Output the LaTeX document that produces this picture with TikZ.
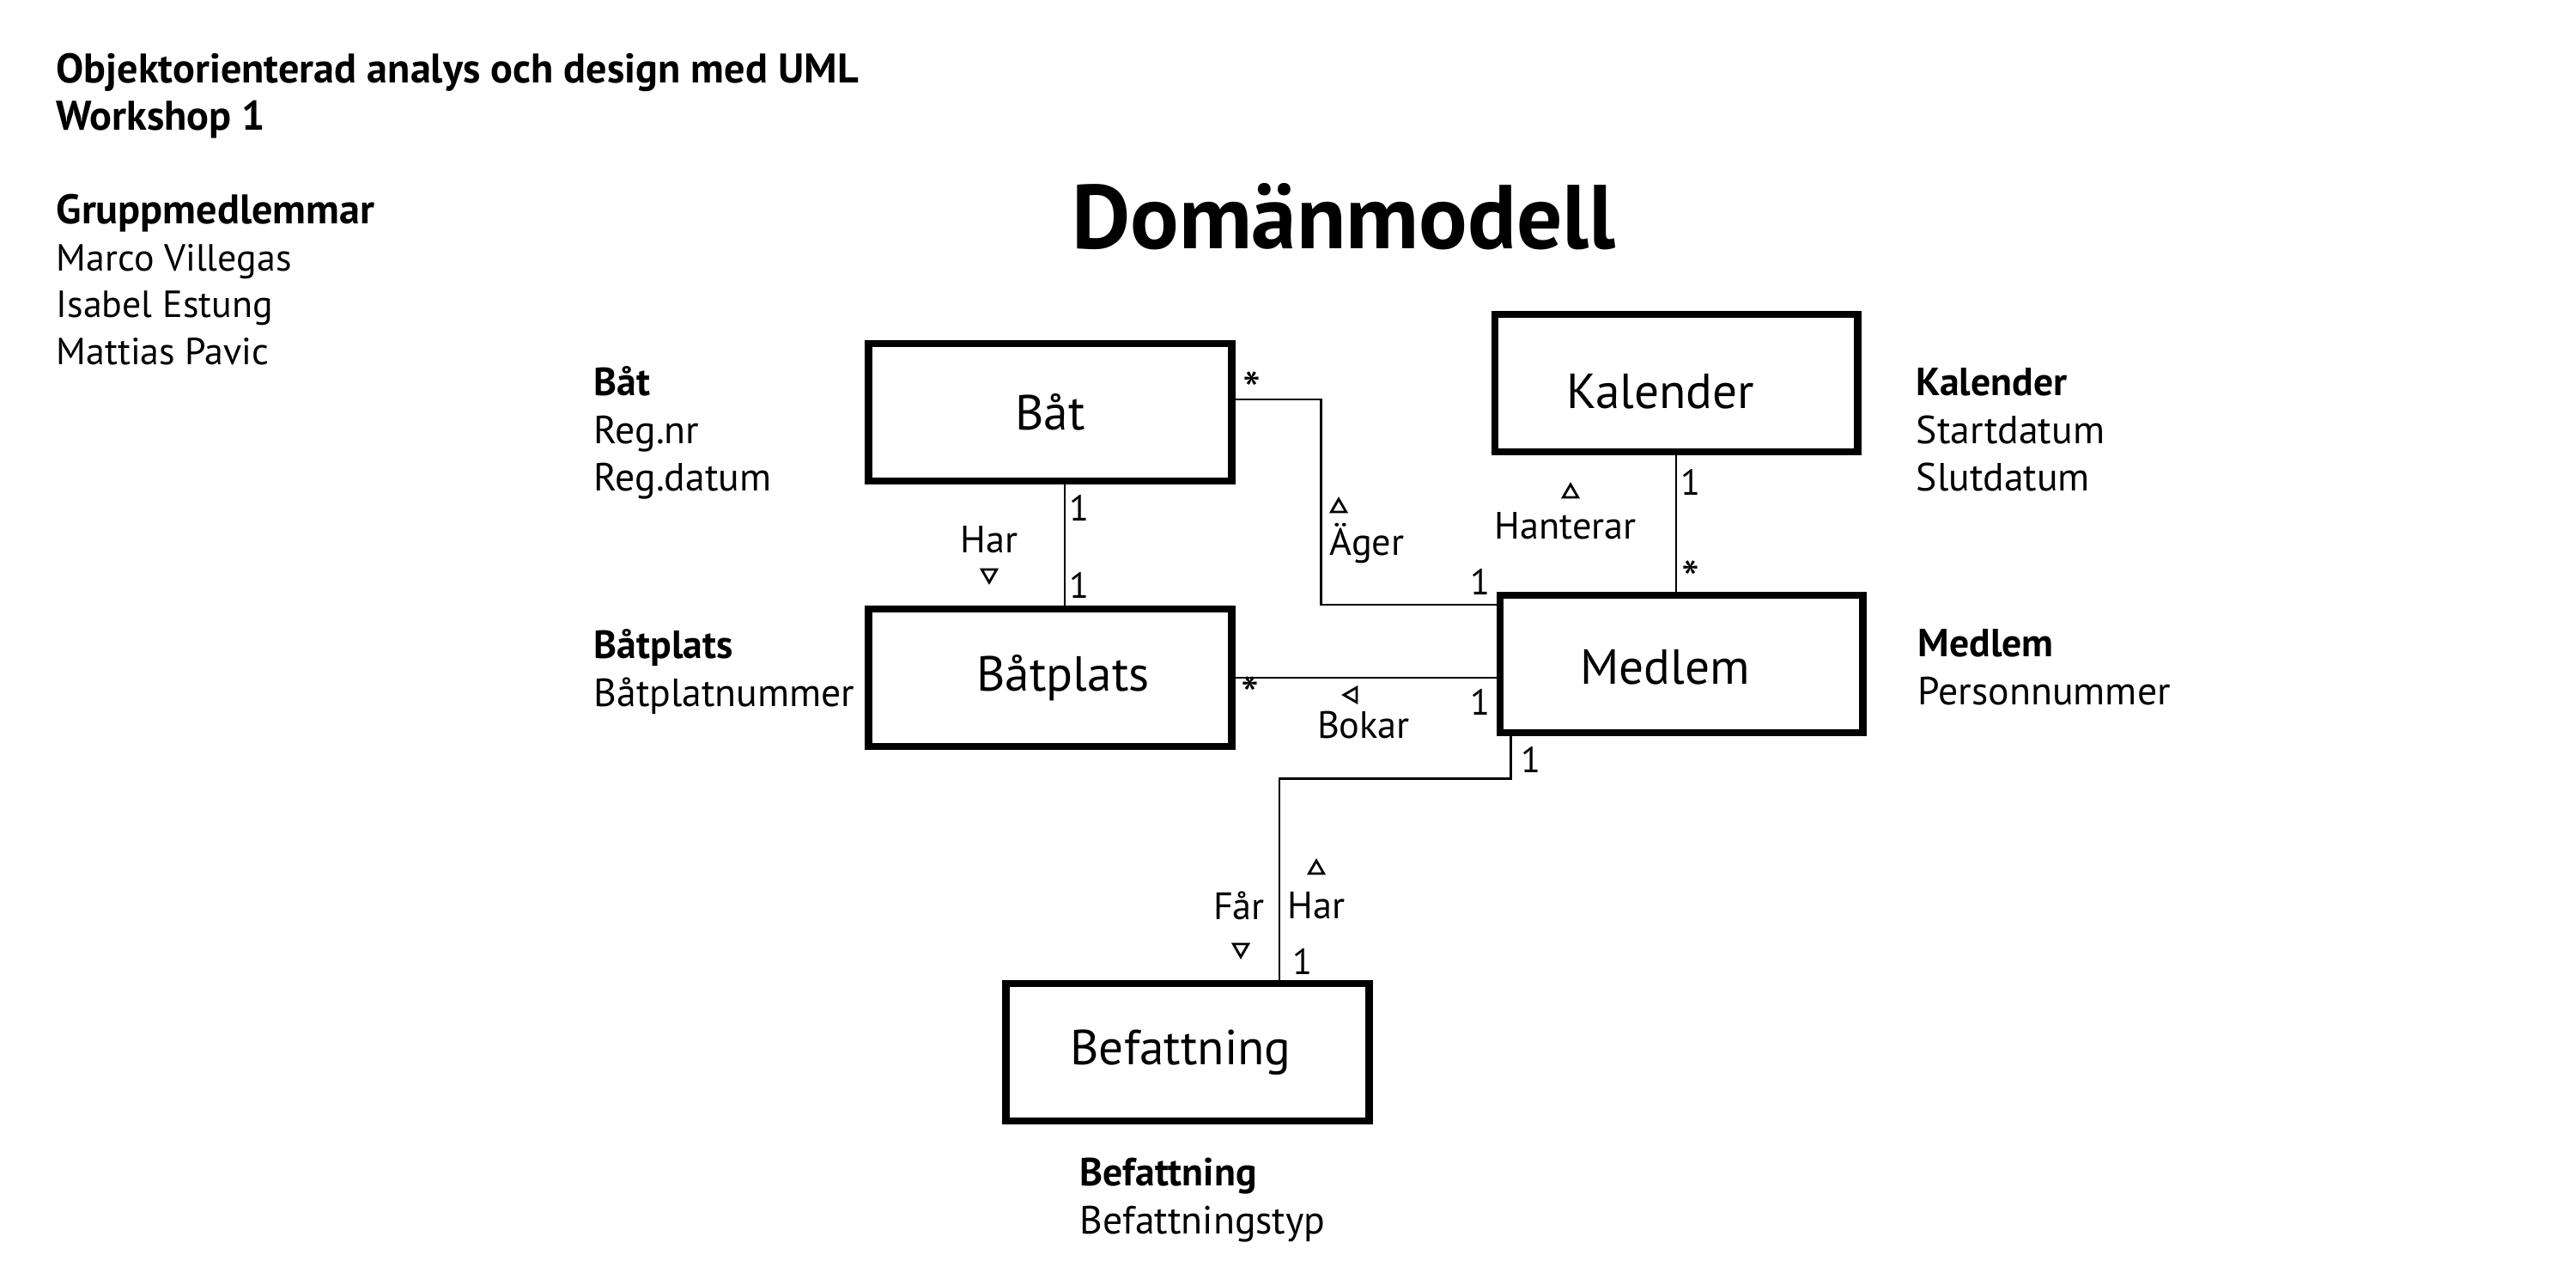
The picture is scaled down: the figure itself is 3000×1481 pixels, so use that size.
\documentclass[tikz,border=0pt]{standalone}
\usepackage{fontspec}
\setmainfont{PT Sans}
\usetikzlibrary{calc,shapes.geometric}

\tikzset{
  klass/.style={draw, line width=2.5pt, minimum width=4.22cm, minimum height=1.6cm, inner sep=0pt, font=\fontsize{16.3}{19}\selectfont},
  assoc/.style={line width=0.7pt},
  rolltext/.style={inner sep=0pt, font=\fontsize{12.6}{14}\selectfont},
  mult/.style={inner sep=0pt, font=\fontsize{12}{14}\selectfont},
  star/.style={inner sep=0pt, font=\fontsize{17}{18}\selectfont},
  dirtri/.style={draw, regular polygon, regular polygon sides=3, line width=0.8pt, minimum size=0.2cm, inner sep=0pt},
  note/.style={anchor=north west, align=left, inner sep=0pt, font=\fontsize{13}{15.8}\selectfont},
}

\begin{document}
\begin{tikzpicture}[x=0.01cm,y=-0.01cm]
\useasboundingbox (0,0) rectangle (3000,1481);
%Text: header
\node [note, font=\bfseries\fontsize{13.7}{15.5}\selectfont] (kurs) at (65,58) {\strut Objektorienterad analys och design med UML\\Workshop 1};
\node [note, font=\fontsize{12.5}{15.5}\selectfont] (grupp) at (65,222) {\strut\textbf{\fontsize{13.7}{15.5}\selectfont Gruppmedlemmar}\\Marco Villegas\\Isabel Estung\\Mattias Pavic};
\node [font=\bfseries\fontsize{30}{34}\selectfont, inner sep=0pt] (rubrik) at (1565,252) {Domänmodell};

%Shape: Rectangle
\node [klass] (bat) at (1223,480) {Båt};
\node [klass] (kalender) at (1952,446) {\raisebox{-0.1cm}[\height][\depth]{\kern-0.36cm Kalender}};
\node [klass] (batplats) at (1223,789) {\kern0.3cm Båtplats};
\node [klass] (medlem) at (1958,773) {\raisebox{-0.04cm}[\height][\depth]{\kern-0.38cm Medlem}};
\node [klass] (befattning) at (1383,1225) {\kern-0.16cm Befattning};

%Text: attributes
\node [note] (batattr) at (691,421) {\strut\textbf{Båt}\\Reg.nr\\Reg.datum};
\node [note] (batplatsattr) at (691,727) {\strut\textbf{Båtplats}\\Båtplatnummer};
\node [note] (kalenderattr) at (2231,421) {\strut\textbf{Kalender}\\Startdatum\\Slutdatum};
\node [note] (medlemattr) at (2233,725) {\strut\textbf{Medlem}\\Personnummer};
\node [note] (befattningattr) at (1257,1341) {\strut\textbf{Befattning}\\Befattningstyp};

%Straight Lines
\draw [assoc] ($(bat.south)+(17,0)$) -- ($(batplats.north)+(17,0)$);
\draw [assoc] ($(bat.east)+(0,-15)$) -- ++(100,0) |- ($(medlem.west)+(0,-69)$);
\draw [assoc] (kalender.south) -- (kalender.south |- medlem.north);
\draw [assoc] (batplats.east) -- (batplats.east -| medlem.west);
\draw [assoc] ($(medlem.south west)+(17,0)$) -- ++(0,49) -| ($(befattning.north)+(107,0)$);

%Text: Har (Båt - Båtplats)
\node [mult] (m1) at (1257,591) {1};
\node [mult] (m2) at (1257,681) {1};
\node [rolltext] (har1) at (1152,628) {Har};
\node [dirtri, rotate=180] (tri1) at (1152,668) {};

%Text: Äger
\node [star] (m3) at (1458,454) {*};
\node [dirtri] (tri2) at (1559,591) {};
\node [rolltext] (ager) at (1592,633) {Äger};
\node [mult] (m4) at (1724,677) {1};

%Text: Hanterar
\node [mult] (m5) at (1969,561) {1};
\node [star] (m6) at (1969,674) {*};
\node [dirtri] (tri3) at (1829,574) {};
\node [rolltext] (hanterar) at (1823,612) {Hanterar};

%Text: Bokar
\node [star] (m7) at (1456,809) {*};
\node [dirtri, rotate=90] (tri4) at (1575,809) {};
\node [rolltext] (bokar) at (1588,844) {Bokar};
\node [mult] (m8) at (1724,817) {1};

%Text: Får / Har
\node [mult] (m9) at (1783,884) {1};
\node [rolltext] (far) at (1443,1054) {Får};
\node [dirtri, rotate=180] (tri5) at (1445,1104) {};
\node [dirtri] (tri6) at (1533,1012) {};
\node [rolltext] (har2) at (1533,1054) {Har};
\node [mult] (m10) at (1517,1119) {1};
\end{tikzpicture}
\end{document}
